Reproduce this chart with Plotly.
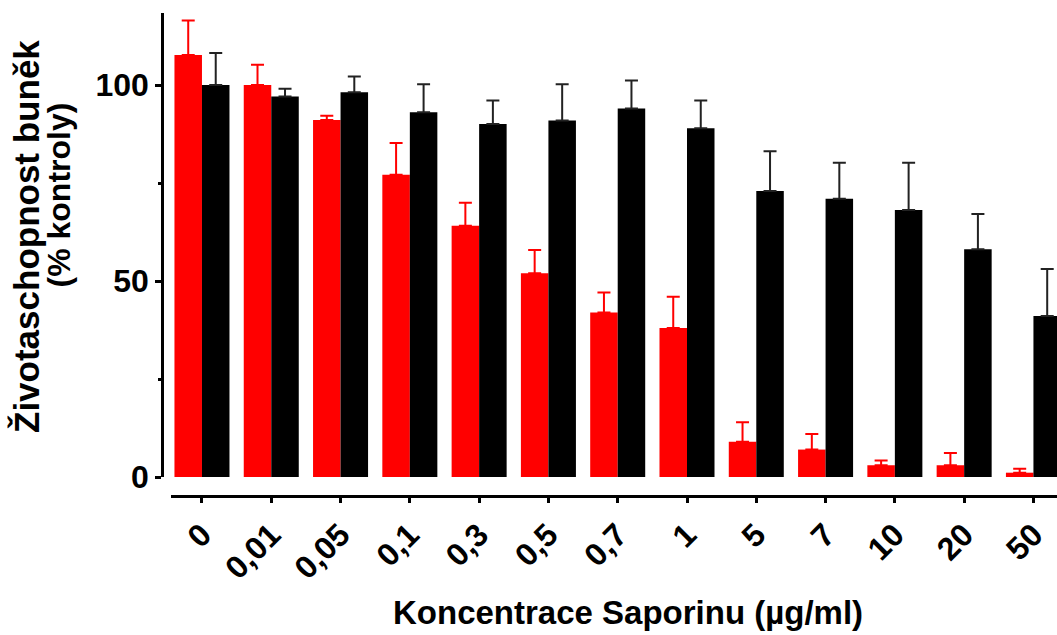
import plotly.graph_objects as go

categories = ["0", "0,01", "0,05", "0,1", "0,3", "0,5", "0,7", "1", "5", "7", "10", "20", "50"]
red_values = [107.7, 100.0, 91.1, 77.1, 64.1, 52.0, 42.0, 38.0, 9.0, 7.0, 3.0, 3.0, 1.1]
red_errors = [8.8, 5.2, 1.1, 8.1, 5.9, 5.9, 5.1, 8.0, 5.0, 4.0, 1.2, 3.1, 1.0]
black_values = [100.0, 97.1, 98.2, 93.1, 90.1, 91.0, 94.0, 89.0, 73.0, 71.0, 68.1, 58.1, 41.1]
black_errors = [8.2, 2.0, 4.0, 7.1, 6.0, 9.2, 7.2, 7.1, 10.1, 9.2, 12.1, 9.0, 12.0]
y_tick_vals = [0, 50, 100]
y_tick_text = ["0", "50", "100"]
x_title = "Koncentrace Saporinu (µg/ml)"
y_title_lines = ["Životaschopnost buněk", "(% kontroly)"]

W, H = 1057, 635
FONT = "Liberation Sans, Arial, sans-serif"
FS = 33
TFS = 32

def px_x(p):
    return p / W

def px_y(p):
    return (H - p) / H

fig = go.Figure()
fig.add_trace(go.Bar(
    x=categories, y=red_values, name="red",
    marker=dict(color="#ff0000", line=dict(width=0)),
    error_y=dict(type="data", array=red_errors, arrayminus=[0] * len(red_errors),
                 symmetric=False, color="#ff0000", thickness=2, width=6.5),
))
fig.add_trace(go.Bar(
    x=categories, y=black_values, name="black",
    marker=dict(color="#000000", line=dict(width=0)),
    error_y=dict(type="data", array=black_errors, arrayminus=[0] * len(black_errors),
                 symmetric=False, color="#222222", thickness=2, width=6.5),
))

fig.update_layout(
    width=W, height=H,
    margin=dict(l=0, r=0, t=0, b=0, autoexpand=False),
    paper_bgcolor="white", plot_bgcolor="white",
    showlegend=False,
    barmode="group", bargap=0.206, bargroupgap=0,
    font=dict(family=FONT, color="black", size=FS),
    xaxis=dict(
        domain=[px_x(171), 1], anchor="free", position=px_y(495.5),
        range=[-0.447, 12.34], automargin=False,
        showline=True, linecolor="black", linewidth=2.5,
        ticks="outside", ticklen=6, tickwidth=2.5, tickcolor="black",
        tickangle=-45,
        tickfont=dict(family=FONT, size=TFS, color="black", weight="bold"),
        showgrid=False, zeroline=False, fixedrange=True,
    ),
    yaxis=dict(
        domain=[px_y(477), px_y(13)], anchor="free", position=px_x(162),
        range=[0, 118.4], automargin=False,
        showline=True, linecolor="black", linewidth=2.5,
        ticks="outside", ticklen=6, tickwidth=2.5, tickcolor="black",
        tickvals=y_tick_vals, ticktext=y_tick_text,
        minor=dict(tickvals=[25, 75], ticks="outside", ticklen=3.5, tickwidth=2.5, tickcolor="black"),
        tickfont=dict(family=FONT, size=TFS, color="black", weight="bold"),
        showgrid=False, zeroline=False, fixedrange=True,
    ),
    annotations=[
        dict(text=x_title, xref="paper", yref="paper", x=px_x(628), y=px_y(612),
             xanchor="center", yanchor="middle", showarrow=False,
             font=dict(family=FONT, size=FS, color="black", weight="bold")),
        dict(text=y_title_lines[0], xref="paper", yref="paper", x=px_x(26), y=px_y(237),
             xanchor="center", yanchor="middle", showarrow=False, textangle=-90,
             font=dict(family=FONT, size=35, color="black", weight="bold")),
        dict(text=y_title_lines[1], xref="paper", yref="paper", x=px_x(58.5), y=px_y(195),
             xanchor="center", yanchor="middle", showarrow=False, textangle=-90,
             font=dict(family=FONT, size=32, color="black", weight="bold")),
    ],
)

post = """
document.documentElement.style.margin = '0';
document.body.style.margin = '0';
document.documentElement.style.overflow = 'hidden';
"""

fig.write_html("out.html", config={"displayModeBar": False}, post_script=post)
